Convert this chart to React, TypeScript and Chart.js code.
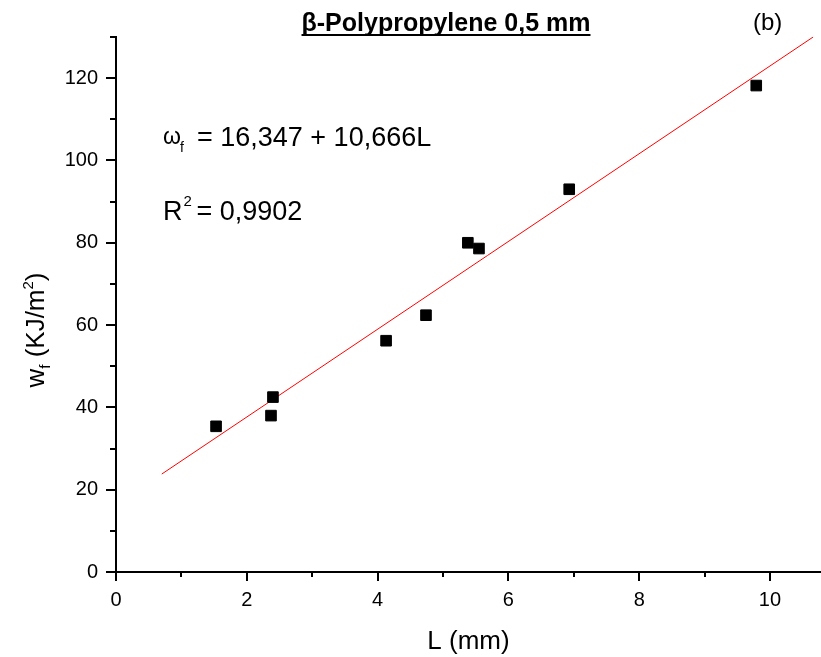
import { useEffect, useRef } from 'react';
import { Chart, registerables } from 'chart.js';

Chart.register(...registerables);

// ---- data ----
const lengthsMm = [1.53, 2.37, 2.40, 4.13, 4.74, 5.38, 5.55, 6.93, 9.79];
const workValues = [35.4, 38.0, 42.5, 56.2, 62.4, 80.0, 78.6, 93.0, 118.2];
const fitLineX = [0.7, 10.66];
const fitLineY = [23.8, 130];
const xMajorTicks = [0, 2, 4, 6, 8, 10];
const xMinorTicks = [1, 3, 5, 7, 9];
const yMajorTicks = [0, 20, 40, 60, 80, 100, 120];
const yMinorTicks = [10, 30, 50, 70, 90, 110, 130];
const titleText = 'β-Polypropylene 0,5 mm';
const panelLabel = '(b)';
const equationText = '= 16,347 + 10,666L';
const r2Text = '= 0,9902';
const xTitle = 'L (mm)';

const FONT = '"Liberation Sans", Arial, sans-serif';

const decorPlugin = {
  id: 'decor',
  afterDraw(chart: any) {
    const { ctx, chartArea } = chart;
    const xs = chart.scales.x;
    const ys = chart.scales.y;
    ctx.save();
    ctx.strokeStyle = '#000';
    ctx.fillStyle = '#000';
    ctx.lineWidth = 2;
    ctx.beginPath();
    for (const v of xMajorTicks) {
      const px = Math.round(xs.getPixelForValue(v));
      ctx.moveTo(px, chartArea.bottom);
      ctx.lineTo(px, chartArea.bottom + 9);
    }
    for (const v of xMinorTicks) {
      const px = Math.round(xs.getPixelForValue(v));
      ctx.moveTo(px, chartArea.bottom);
      ctx.lineTo(px, chartArea.bottom + 5);
    }
    for (const v of yMajorTicks) {
      const py = Math.round(ys.getPixelForValue(v));
      ctx.moveTo(chartArea.left, py);
      ctx.lineTo(chartArea.left - 10, py);
    }
    for (const v of yMinorTicks) {
      const py = Math.round(ys.getPixelForValue(v));
      ctx.moveTo(chartArea.left, py);
      ctx.lineTo(chartArea.left - 6, py);
    }
    ctx.stroke();

    // title (bold, underlined)
    ctx.font = `bold 25px ${FONT}`;
    ctx.textAlign = 'center';
    ctx.textBaseline = 'alphabetic';
    const tx = 446;
    const tw = ctx.measureText(titleText).width;
    ctx.fillText(titleText, tx, 31);
    ctx.fillRect(tx - tw / 2, 34, tw, 2);

    // panel label
    ctx.font = `24px ${FONT}`;
    ctx.textAlign = 'left';
    ctx.fillText(panelLabel, 753, 30);

    // equation
    ctx.font = `23px ${FONT}`;
    ctx.fillText('ω', 163, 144);
    ctx.font = `14px ${FONT}`;
    ctx.fillText('f', 180, 152);
    ctx.font = `27px ${FONT}`;
    ctx.fillText(equationText, 197, 146);

    ctx.font = `27px ${FONT}`;
    ctx.fillText('R', 163, 220);
    const rw = ctx.measureText('R').width;
    ctx.font = `15px ${FONT}`;
    ctx.fillText('2', 163 + rw + 1, 206);
    ctx.font = `27px ${FONT}`;
    ctx.fillText(r2Text, 163 + rw + 14, 220);

    // y-axis title, rotated
    ctx.translate(44, 330);
    ctx.rotate(-Math.PI / 2);
    const parts: [string, number, number][] = [
      ['w', 26, 0],
      ['f', 15, 6],
      [' (KJ/m', 26, 0],
      ['2', 15, -11],
      [')', 26, 0],
    ];
    let total = 0;
    for (const [t, s] of parts) {
      ctx.font = `${s}px ${FONT}`;
      total += ctx.measureText(t).width;
    }
    let cx = -total / 2;
    for (const [t, s, dy] of parts) {
      ctx.font = `${s}px ${FONT}`;
      ctx.fillText(t, cx, dy);
      cx += ctx.measureText(t).width;
    }
    ctx.restore();
  },
};

export default function App() {
  const ref = useRef<HTMLCanvasElement | null>(null);
  useEffect(() => {
    if (!ref.current) return;
    const chart = new Chart(ref.current, {
      type: 'scatter',
      data: {
        datasets: [
          {
            label: 'data',
            data: lengthsMm.map((x, i) => ({ x, y: workValues[i] })),
            pointStyle: 'rect',
            pointRadius: 7.5,
            pointBackgroundColor: '#000',
            pointBorderColor: '#000',
            pointBorderWidth: 1,
            pointHoverRadius: 7.5,
          },
          {
            label: 'fit',
            data: fitLineX.map((x, i) => ({ x, y: fitLineY[i] })),
            showLine: true,
            borderColor: '#ff0000',
            borderWidth: 1,
            pointRadius: 0,
          },
        ],
      },
      options: {
        responsive: false,
        animation: false,
        devicePixelRatio: 1,
        layout: { autoPadding: false, padding: { top: 37, right: 0, left: 0, bottom: 0 } },
        plugins: { legend: { display: false }, title: { display: false }, tooltip: { enabled: false } },
        scales: {
          x: {
            type: 'linear',
            min: 0,
            max: 10.78,
            afterFit: (s: any) => { s.height = 85; s.paddingRight = 0; s.paddingLeft = 0; },
            afterBuildTicks: (s: any) => { s.ticks = xMajorTicks.map((v) => ({ value: v })); },
            grid: { display: false, drawTicks: false },
            border: { display: true, color: '#000', width: 2 },
            ticks: { color: '#000', font: { family: FONT, size: 20 }, padding: 16, maxRotation: 0 },
            title: { display: true, text: xTitle, color: '#000', font: { family: FONT, size: 26 }, padding: { top: 3, bottom: 0 } },
          },
          y: {
            type: 'linear',
            min: 0,
            max: 130,
            afterFit: (s: any) => { s.width = 116; s.paddingTop = 0; s.paddingBottom = 0; },
            afterBuildTicks: (s: any) => { s.ticks = yMajorTicks.map((v) => ({ value: v })); },
            grid: { display: false, drawTicks: false },
            border: { display: true, color: '#000', width: 2 },
            ticks: { color: '#000', font: { family: FONT, size: 20 }, padding: 18 },
          },
        },
      },
      plugins: [decorPlugin],
    });
    return () => chart.destroy();
  }, []);
  return (
    <div style={{ position: 'absolute', left: 0, top: 0, width: 821, height: 657, background: '#fff' }}>
      <canvas ref={ref} width={821} height={657} />
    </div>
  );
}
